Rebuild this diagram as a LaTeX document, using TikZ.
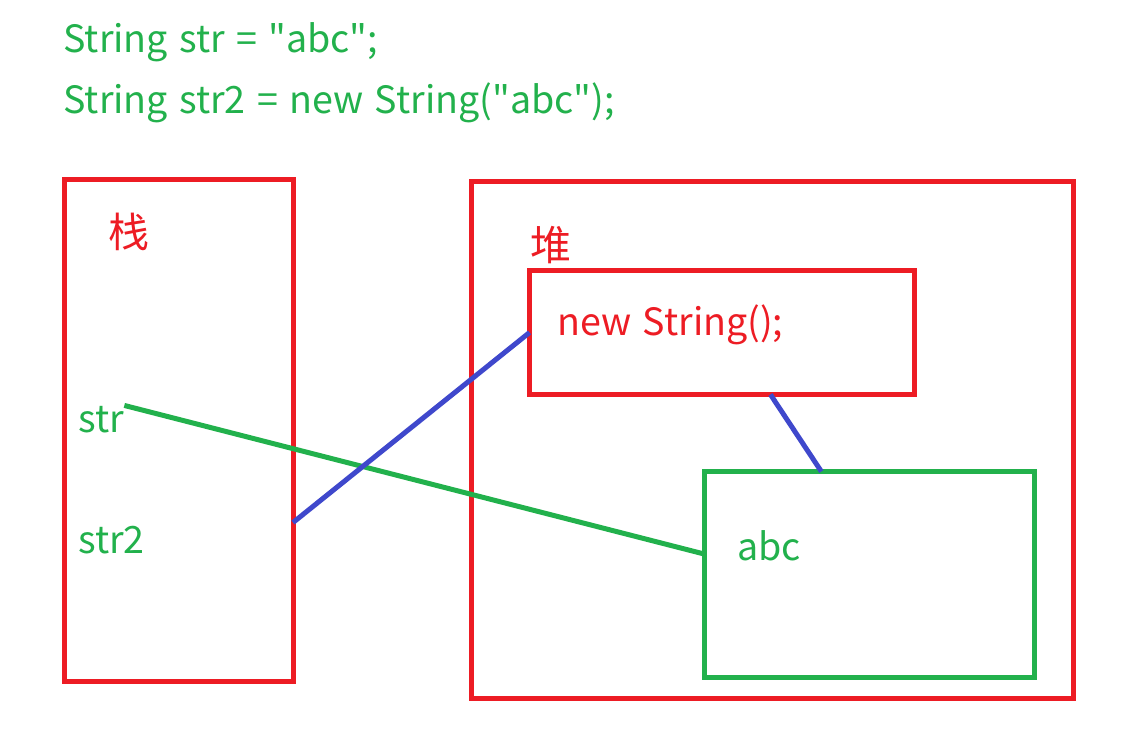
\documentclass[tikz,border=0pt]{standalone}
\usepackage{fontspec}
\setmainfont{Noto Sans CJK SC}[Ligatures=TeXOff,WordSpace=1.35]
\definecolor{pred}{HTML}{ED1C24}
\definecolor{pgreen}{HTML}{22B14C}
\definecolor{pblue}{HTML}{3F48CC}
\begin{document}
\begin{tikzpicture}[x=0.5pt,y=-0.5pt,
  box/.style={draw,line width=2.5pt,inner sep=0pt,outer sep=0pt,anchor=north west},
  txt/.style={inner sep=0pt,anchor=base west,font=\fontsize{18.8}{22}\selectfont},
  hanzi/.style={txt,font=\fontsize{20.5}{24}\selectfont},
  link/.style={line width=2.5pt}]
\fill[white] (0,0) rectangle (1144,744);
\useasboundingbox (0,0) rectangle (1144,744);
% code
\node[txt,pgreen] (code1) at (63,52) {String str = "abc";};
\node[txt,pgreen] (code2) at (63,113) {String str2 = new String("abc");};
% stack
\node[box,pred,minimum width=114.25pt,minimum height=251pt] (stack) at (64.5,179) {};
\node[hanzi,pred] (stacklbl) at (108,247) {栈};
\node[txt,pgreen] (str) at (78,432) {str};
\node[txt,pgreen] (strtwo) at (78,553) {str2};
% heap
\node[box,pred,minimum width=300.75pt,minimum height=258.5pt] (heap) at (471.5,181) {};
\node[hanzi,pred] (heaplbl) at (530,260) {堆};
\node[box,pred,minimum width=192.5pt,minimum height=62pt] (obj) at (529.5,270.5) {};
\node[txt,pred] (objlbl) at (557,335) {new String();};
\node[box,pgreen,minimum width=165.25pt,minimum height=102.75pt] (pool) at (704,471.5) {};
\node[txt,pgreen] (poollbl) at (737,560) {abc};
% references
\draw[link,pgreen] (str.north east) -- (pool.173);
\draw[link,pblue] (stack.-39) -- (obj.west);
\draw[link,pblue] (obj.-52.8) -- (pool.115.2);
\end{tikzpicture}
\end{document}
